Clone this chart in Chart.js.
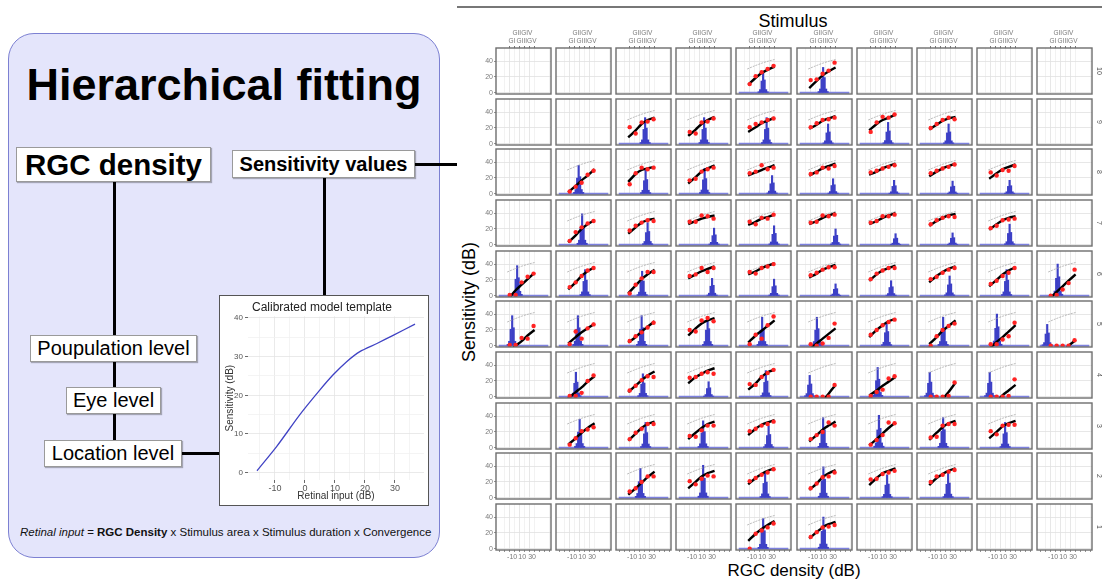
<!DOCTYPE html>
<html>
<head>
<meta charset="utf-8">
<script src="https://cdn.jsdelivr.net/npm/chart.js@4.4.1/dist/chart.umd.min.js"></script>
<style>
  html, body { margin:0; padding:0; background:#fff; width:1102px; height:582px; overflow:hidden;
    font-family:'Liberation Sans', Arial, sans-serif; color:#000 }
  .abs { position:absolute }
  .box { position:absolute; background:#fff; border:1px solid #9a9a9a; box-shadow:1px 1px 1px rgba(0,0,0,.28);
    box-sizing:border-box; display:flex; align-items:center; justify-content:center; white-space:nowrap }
  .ln { position:absolute; background:#000 }
  canvas { position:absolute }
</style>
</head>
<body>

<!-- left: hierarchical fitting diagram -->
<div class="abs" style="left:8px;top:33px;width:432px;height:525px;background:#e4e5fb;border:1.5px solid #7c80d2;border-radius:26px;box-sizing:border-box"></div>
<div class="abs" style="left:0;width:448px;top:62px;text-align:center;font:bold 45px/45px 'Liberation Sans',Arial,sans-serif">Hierarchical fitting</div>

<div class="ln" style="left:113px;top:182px;width:2.5px;height:258px"></div>
<div class="ln" style="left:323px;top:178px;width:2.5px;height:117px"></div>
<div class="ln" style="left:182px;top:452px;width:37px;height:2.5px"></div>
<div class="ln" style="left:415px;top:163px;width:42px;height:2.5px"></div>

<div class="box" style="left:16px;top:147px;width:195px;height:35px;font:bold 29.5px 'Liberation Sans',Arial,sans-serif">RGC density</div>
<div class="box" style="left:232px;top:150px;width:183px;height:28px;font:bold 20px 'Liberation Sans',Arial,sans-serif">Sensitivity values</div>
<div class="box" style="left:30px;top:335px;width:167px;height:27px;font-size:20px">Poupulation level</div>
<div class="box" style="left:66px;top:387px;width:95px;height:27px;font-size:20px">Eye level</div>
<div class="box" style="left:44px;top:440px;width:138px;height:27px;font-size:20px">Location level</div>

<div class="abs" style="left:219px;top:295px;width:210px;height:211px;background:#fff;border:1.5px solid #555;box-sizing:border-box"></div>
<canvas id="inset" width="208" height="209" style="left:220px;top:296px"></canvas>

<div class="abs" style="left:20px;top:524px;font-size:11.5px;line-height:16px;white-space:nowrap;color:#111">
  <i>Retinal input</i> = <b>RGC Density</b> x Stimulus area x Stimulus duration x Convergence
</div>

<!-- right: grid of locations -->
<div class="abs" style="left:457px;top:6px;width:645px;height:1.5px;background:#777"></div>
<div class="abs" style="left:693px;top:10px;width:200px;text-align:center;font-size:18px;line-height:22px">Stimulus</div>
<div class="abs" style="left:369px;top:291px;width:200px;height:22px;text-align:center;font-size:18px;line-height:22px;transform:rotate(-90deg)">Sensitivity (dB)</div>
<div class="abs" style="left:694px;top:560px;width:200px;text-align:center;font-size:17px;line-height:22px">RGC density (dB)</div>

<div id="grid"></div>

<script>
// ---- data ----
// which of the 10 x 10 grid cells carry data
const ACTIVE = [
  '0000110000',
  '0011111100',
  '0111111110',
  '0111111110',
  '1111111111',
  '1111111111',
  '0111111110',
  '0111111110',
  '0011111100',
  '0000110000'
];
const ROW_LABELS = ['10', '9', '8', '7', '6', '5', '4', '3', '2', '1'];
const X_LABELED = [-10, 10, 30];
const Y_LABELED = [0, 20, 40];
const STIM_X = [-13.5, -2.3, 9, 20.3, 31.5];
const STIM_LABELS = ['GI', 'GII', 'GIII', 'GIV', 'GV'];

// x positions of the five stimulus sizes / fitted curve / population curve
const PTS_X  = [-15, -3, 9, 21, 33];
const LINE_X = [-18, -3, 9, 21, 35];
const GRAY_X = [-20, -5, 10, 20, 35];
const GRAY_Y = [30, 34, 37.5, 39.5, 42];

// histogram bins (offset from centre) and their relative height
const HIST_OFF   = [-9, -6, -3, 0, 3, 6, 9];
const HIST_SHAPE = [0.05, 0.15, 0.55, 1, 0.6, 0.15, 0.05];

// one entry per active cell, row by row
const HIST_X = [12, 10,
  16, 14, 19, 20, 20, 21,
  3, 17, 15, 30, 30, 32, 29, 23,
  10, 21, 34, 34, 35, 35, 29, 23,
  0, 16, 10, 30, 34, 35, 26, 23, 17, -1,
  -10, 1.5, 9, 21, 10, -2.5, 17, 10, -2.5, -22,
  -2.5, 11.5, 23, 17.5, -17, -1, -17, -17,
  5, 17, 12, 23, 10, 1.5, 10, 14,
  6.5, 12, 16, 10.5, 18, 20,
  12, 10.5];
const HIST_H = [27, 32,
  33, 33, 33, 25, 27, 25,
  36, 30, 32, 23, 19, 17, 16, 17,
  39, 28, 21, 24, 20, 14, 15, 26,
  38, 33, 31, 22, 21, 15, 19, 25, 33, 40,
  38, 38, 38, 36, 36, 36, 30, 36, 40, 27,
  31, 29, 19, 33, 27, 37, 31, 31,
  36, 32, 34, 28, 38, 41, 38, 32,
  37, 41, 33, 39, 29, 31,
  38, 40];
const FIT_Y = [
  [10,19,25,29,33], [6,15,22,27,32],
  [8,17,25,30,33], [10,18,25,30,34], [15,21,26,29,33], [19,24,29,32,35], [17,25,30,33,37], [18,24,29,32,34],
  [2,10,17,23,31], [15,25,30,32,34], [13,21,28,32,36], [23,27,30,33,36], [23,28,32,35,38], [24,28,32,35,38], [22,28,32,35,38], [19,26,31,34,37],
  [3,12,20,26,31], [14,22,28,31,33], [26,30,33,35,37], [25,29,33,35,38], [26,30,34,37,40], [26,30,34,37,40], [24,30,34,37,39], [19,26,31,34,36],
  [-4,7,14,21,29], [8,17,25,31,36], [3,13,21,27,33], [22,27,31,34,37], [27,31,35,38,41], [23,28,33,36,39], [19,27,32,35,38], [17,25,30,34,37], [12,20,27,32,36], [-4,5,12,19,27],
  [-8,0,6,13,20], [3,11,17,22,28], [4,11,18,24,31], [13,22,28,32,35], [4,13,19,25,32], [-5,3,9,15,22], [11,20,26,31,34], [2,11,19,25,32], [-4,5,11,18,26], [-25,-15,-8,0,7],
  [-2,6,12,19,26], [6,14,21,27,32], [17,25,29,33,36], [9,17,25,31,34], [-25,-14,-5,4,15], [2,8,14,19,25], [-27,-15,-3,6,18], [-13,-6,2,8,15],
  [4,12,19,25,31], [9,18,25,30,33], [11,19,25,30,33], [16,24,29,32,35], [8,16,23,28,33], [3,11,18,25,32], [10,19,26,31,34], [12,20,27,31,34],
  [4,12,19,26,33], [12,20,27,31,34], [17,25,30,34,37], [10,18,26,31,35], [16,25,31,34,37], [16,25,30,34,37],
  [10,19,25,30,35], [13,21,27,31,34]
];
const PTS_Y = [
  [11,21,26,30,34], [16,17,24,28,38],
  [21,13,27,28,31], [15,13,27,28,32], [21,25,27,30,32], [21,26,30,31,33], [15,27,34,33,37], [20,25,30,33,31],
  [3,9,14,24,29], [12,26,33,31,33], [17,19,28,31,33], [26,28,36,31,33], [25,27,33,32,35], [27,29,32,34,36], [26,29,32,34,37], [27,23,30,29,35],
  [5,16,22,27,30], [18,24,28,31,30], [29,29,37,36,33], [29,26,34,33,38], [28,29,37,36,38], [28,30,36,36,38], [26,31,34,36,35], [21,24,31,32,33],
  [1,1,17,24,28], [11,17,25,32,35], [3,14,22,30,30], [25,27,35,30,35], [30,28,35,37,40], [26,29,33,36,36], [21,28,32,35,35], [21,24,29,33,35], [15,19,25,29,35], [0,1,8,16,33],
  [1,1,10,9,25], [2,18,9,22,27], [6,12,17,23,29], [20,18,32,35,31], [2,14,9,26,37], [2,0,3,10,28], [14,20,26,30,33], [0,12,20,25,28], [2,2,8,12,29], [0,0,0,0,7],
  [1,1,5,20,27], [8,14,21,26,25], [24,25,29,31,29], [16,15,25,30,34], [0,0,0,0,15], [1,6,9,23,26], [0,0,0,1,18], [0,0,0,1,22],
  [4,12,21,23,26], [11,19,24,30,30], [15,14,22,28,28], [21,24,28,30,33], [11,16,20,32,28], [4,10,16,32,31], [13,14,28,30,30], [21,17,28,29,29],
  [8,12,20,27,27], [21,17,24,28,27], [21,25,29,32,36], [12,18,26,27,32], [23,24,30,32,34], [20,27,29,33,35],
  [0,19,23,27,32], [15,21,27,28,30]
];

// calibrated template (inset)
const TEMPLATE_X = [-16, -9.4, -1.7, 5, 9.4, 13.9, 18.3, 24, 29.4, 36.7];
const TEMPLATE_Y = [0.5, 6.8, 15, 21.4, 25.3, 28.7, 31.3, 33.4, 35.5, 38.4];

// ---- layout ----
const COL_LEFT = 496, COL_PITCH = 60.1, PANEL_W = 55;
const ROW_TOP = 48, ROW_PITCH = 50.67, PANEL_H = 46;
const M = { l: 22, r: 14, t: 20, b: 14 };
const XMIN = -37, XMAX = 62.5, YMIN = -1.5, YMAX = 56.5;

Chart.defaults.font.family = "'Liberation Sans', Arial, sans-serif";
Chart.defaults.animation = false;

const framePlugin = {
  id: 'frame',
  afterDraw(chart) {
    const a = chart.chartArea, g = chart.ctx;
    g.save();
    g.strokeStyle = '#6e6e6e';
    g.lineWidth = 1.4;
    g.strokeRect(a.left, a.top, a.right - a.left, a.bottom - a.top);
    g.restore();
  }
};

const gridX = ctx => {
  const v = ctx.tick && ctx.tick.value;
  if (v < -20 || v > 40) return 'rgba(0,0,0,0)';
  return X_LABELED.includes(v) ? '#e1e1e1' : '#efefef';
};
const gridY = ctx => {
  const v = ctx.tick && ctx.tick.value;
  return Y_LABELED.includes(v) ? '#e1e1e1' : '#efefef';
};

const host = document.getElementById('grid');
let k = 0;
for (let r = 0; r < 10; r++) {
  for (let c = 0; c < 10; c++) {
    const px = Math.round(COL_LEFT + COL_PITCH * c);
    const py = Math.round(ROW_TOP + ROW_PITCH * r);
    const cv = document.createElement('canvas');
    cv.width = PANEL_W + M.l + M.r;
    cv.height = PANEL_H + M.t + M.b;
    cv.style.left = (px - M.l) + 'px';
    cv.style.top = (py - M.t) + 'px';
    host.appendChild(cv);

    const datasets = [];
    if (ACTIVE[r][c] === '1') {
      const i = k++;
      datasets.push(
        { type: 'scatter', data: PTS_X.map((x, j) => ({ x, y: PTS_Y[i][j] })),
          pointRadius: 2.2, pointBackgroundColor: '#ff2323', pointBorderWidth: 0, order: 1 },
        { type: 'line', data: LINE_X.map((x, j) => ({ x, y: FIT_Y[i][j] })),
          borderColor: '#000', borderWidth: 2.4, pointRadius: 0, cubicInterpolationMode: 'monotone', clip: 0, order: 2 },
        { type: 'line', data: GRAY_X.map((x, j) => ({ x, y: GRAY_Y[j] })),
          borderColor: '#a9a9a9', borderWidth: 0.8, borderDash: [2, 1], pointRadius: 0, tension: 0.3, order: 3 },
        { type: 'bar', data: HIST_OFF.map((d, j) => ({ x: HIST_X[i] + d, y: HIST_SHAPE[j] * HIST_H[i] })),
          backgroundColor: '#3d40c6', barPercentage: 1, categoryPercentage: 1, order: 4 },
        { type: 'line', data: [{ x: XMIN, y: 0 }, { x: XMAX, y: 0 }],
          borderColor: '#7d81de', borderWidth: 2, pointRadius: 0, order: 5 }
      );
    }

    new Chart(cv, {
      type: 'bar',
      data: { datasets },
      options: {
        responsive: false, events: [], devicePixelRatio: 1,
        layout: { padding: 0 },
        plugins: { legend: { display: false }, tooltip: { enabled: false } },
        scales: {
          x: { type: 'linear', position: 'bottom', min: XMIN, max: XMAX,
            afterFit: s => { s.height = M.b; },
            border: { display: false },
            grid: { color: gridX, lineWidth: 0.8, drawTicks: r === 9, tickLength: 2, tickColor: '#777' },
            ticks: { stepSize: 10, includeBounds: false, autoSkip: false, maxRotation: 0, minRotation: 0,
              padding: 1, font: { size: 7 }, color: '#7a7a7a',
              callback: v => (r === 9 && X_LABELED.includes(v)) ? String(v) : '' } },
          xTop: { type: 'linear', position: 'top', min: XMIN, max: XMAX,
            afterFit: s => { s.height = M.t; },
            afterBuildTicks: s => { s.ticks = STIM_X.map(v => ({ value: v })); },
            border: { display: false },
            grid: { drawOnChartArea: false, drawTicks: r === 0, tickLength: 2, tickColor: '#777' },
            ticks: { display: r === 0, autoSkip: false, maxRotation: 0, minRotation: 0, padding: 1,
              font: { size: 6.5 }, color: '#7a7a7a',
              callback: (v, j) => j % 2 ? [STIM_LABELS[j], ''] : ['', STIM_LABELS[j]] } },
          y: { type: 'linear', position: 'left', min: YMIN, max: YMAX,
            afterFit: s => { s.width = M.l; },
            border: { display: false },
            grid: { color: gridY, lineWidth: 0.8, drawTicks: c === 0, tickLength: 2, tickColor: '#777' },
            ticks: { stepSize: 10, includeBounds: false, padding: 1, font: { size: 7 }, color: '#7a7a7a',
              callback: v => (c === 0 && Y_LABELED.includes(v)) ? String(v) : '' } },
          yRight: { type: 'linear', position: 'right', min: YMIN, max: YMAX,
            afterFit: s => { s.width = M.r; },
            border: { display: false },
            grid: { display: false },
            ticks: { display: false },
            title: { display: c === 9, text: ROW_LABELS[r], font: { size: 7 }, color: '#555', padding: { top: 3, bottom: 0 } } }
        }
      },
      plugins: [framePlugin]
    });
  }
}

// ---- inset: calibrated model template ----
const insetMajor = v => v % 10 === 0;
new Chart(document.getElementById('inset'), {
  type: 'line',
  data: { datasets: [{ data: TEMPLATE_X.map((x, i) => ({ x, y: TEMPLATE_Y[i] })),
    borderColor: '#4043c4', borderWidth: 1.3, pointRadius: 0, tension: 0.25 }] },
  options: {
    responsive: false, events: [], devicePixelRatio: 1,
    layout: { padding: { top: 0, right: 4, bottom: 0, left: 0 } },
    plugins: {
      legend: { display: false }, tooltip: { enabled: false },
      title: { display: true, text: 'Calibrated model template', color: '#222',
        font: { size: 12, weight: 'normal' }, padding: { top: 4, bottom: 2 } }
    },
    scales: {
      x: { type: 'linear', min: -19, max: 39.7,
        afterFit: s => { s.height = 25; },
        border: { display: false },
        grid: { color: ctx => insetMajor(ctx.tick.value) ? '#e4e4e4' : '#f1f1f1', lineWidth: 0.8,
          tickLength: 3, tickColor: ctx => insetMajor(ctx.tick.value) ? '#444' : 'rgba(0,0,0,0)' },
        ticks: { stepSize: 5, includeBounds: false, autoSkip: false, maxRotation: 0, padding: 0,
          font: { size: 9 }, color: '#555', callback: v => insetMajor(v) ? String(v) : '' },
        title: { display: true, text: 'Retinal input (dB)', color: '#333', font: { size: 10 },
          padding: { top: 0, bottom: 3 } } },
      y: { type: 'linear', min: -1.9, max: 40.4,
        afterFit: s => { s.width = 28; },
        border: { display: false },
        grid: { color: ctx => insetMajor(ctx.tick.value) ? '#e4e4e4' : '#f1f1f1', lineWidth: 0.8,
          tickLength: 3, tickColor: ctx => insetMajor(ctx.tick.value) ? '#444' : 'rgba(0,0,0,0)' },
        ticks: { stepSize: 5, includeBounds: false, padding: 2, font: { size: 8 }, color: '#555',
          callback: v => insetMajor(v) ? String(v) : '' },
        title: { display: true, text: 'Sensitivity (dB)', color: '#333', font: { size: 10 },
          padding: { top: 4, bottom: 0 } } }
    }
  }
});
</script>
</body>
</html>
